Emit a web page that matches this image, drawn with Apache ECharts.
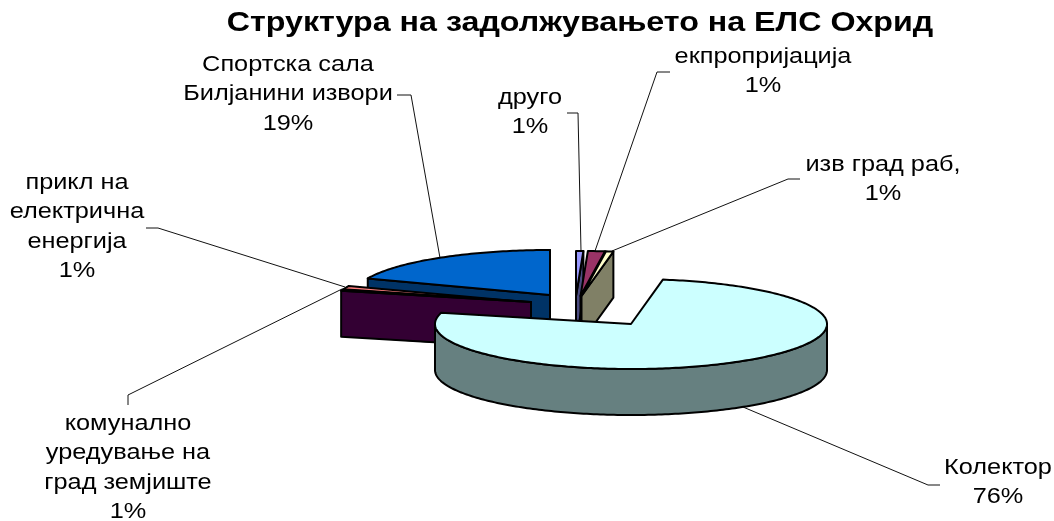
<!DOCTYPE html>
<html>
<head>
<meta charset="utf-8">
<style>html,body{margin:0;padding:0;background:#fff}#chart{width:1054px;height:521px}</style>
<script src="https://cdn.jsdelivr.net/npm/echarts@6/dist/echarts.min.js"></script>
</head>
<body>
<div id="chart"></div>
<script>
// Slices run clockwise from twelve o'clock.
const chartTitle = 'Структура на задолжувањето на ЕЛС Охрид';
const categories = [
  'друго',
  'екпропријација',
  'изв град раб,',
  'Колектор',
  'комунално\nуредување на\nград земјиште',
  'прикл на\nелектрична\nенергија',
  'Спортска сала\nБилјанини извори'
];
const values = [0.6, 1.4, 0.6, 76.4, 0.6, 1.4, 19.0];

const topColors  = ['#9999FF', '#993366', '#FFFFCC', '#CCFFFF', '#660066', '#FF8080', '#0066CC'];
const sideColors = ['#4C4C80', '#4C1933', '#808066', '#668080', '#330033', '#804040', '#003366'];

// Pie geometry: each slice is pulled away from the middle by its own amount.
const radiusX = 196, radiusY = 45, depth = 46;
const sliceCentres = [[576, 296], [580.5, 296], [581.5, 296], [631, 324], [531, 302], [531, 302.5], [550, 295]];
const paintOrder = [6, 5, 4, 0, 1, 2, 3];

// Label anchors: horizontal centre, first line's vertical centre, leader line.
const labelLayout = [
  { x: 530, y: 98,  line: [[567, 113], [578, 113], [581, 251]] },
  { x: 763, y: 57,  line: [[670, 72], [657, 72], [595, 251]] },
  { x: 883, y: 165, line: [[800, 179], [788, 179], [612, 251]] },
  { x: 998, y: 468, line: [[940, 485], [928, 485], [743, 407]] },
  { x: 128, y: 424, line: [[128, 405], [128, 395], [342, 289]] },
  { x: 77,  y: 183, line: [[146, 228], [158, 228], [345, 287]] },
  { x: 288, y: 65,  line: [[397, 95], [411, 95], [440, 258]] }
];
const fontFamily = '"Liberation Sans", Arial, sans-serif';
const lineHeight = 29.4;
const textStretch = 1.15;

const total = values.reduce((a, b) => a + b, 0);
const startAngles = [];
values.reduce((acc, v, i) => { startAngles[i] = acc; return acc + v / total * 360; }, 0);

function rimPoint(c, deg, drop) {
  const r = deg * Math.PI / 180;
  return [c[0] + radiusX * Math.sin(r), c[1] - radiusY * Math.cos(r) + (drop || 0)];
}
function rimArc(c, a0, a1, drop) {
  const pts = [];
  const n = Math.max(2, Math.ceil(Math.abs(a1 - a0)));
  for (let k = 0; k <= n; k++) pts.push(rimPoint(c, a0 + (a1 - a0) * k / n, drop));
  return pts;
}
function shape(points, fill, z2) {
  return {
    type: 'polygon', z2: z2,
    shape: { points: points },
    style: { fill: fill, stroke: '#000', lineWidth: 2, lineJoin: 'round' }
  };
}

function renderSlice(params, api) {
  const i = api.value(1);
  const share = api.value(0) / total;
  const a0 = startAngles[i], a1 = a0 + share * 360;
  const c = sliceCentres[i];
  const z = 10 + paintOrder.indexOf(i) * 5;
  const low = [c[0], c[1] + depth];
  const children = [];

  // Flat faces left by the cut, where they turn toward the viewer.
  const face = a => shape([c, rimPoint(c, a), rimPoint(c, a, depth), low], sideColors[i], z);
  if (Math.sin(a0 * Math.PI / 180) < 0) children.push(face(a0));
  if (Math.sin(a1 * Math.PI / 180) > 0) children.push(face(a1));

  // Curved outer wall on the near half of the ellipse.
  const w0 = Math.max(a0, 90), w1 = Math.min(a1, 270);
  if (w1 > w0) {
    children.push(shape(
      rimArc(c, w0, w1, 0).concat(rimArc(c, w1, w0, depth)), sideColors[i], z + 1));
  }

  // Top surface.
  children.push(shape([c].concat(rimArc(c, a0, a1, 0)), topColors[i], z + 2));

  // Leader line and text.
  const lay = labelLayout[i];
  children.push({
    type: 'polyline', z2: 1,
    shape: { points: lay.line },
    style: { fill: null, stroke: '#111', lineWidth: 1 }
  });
  const lines = categories[i].split('\n').concat(Math.round(share * 100) + '%');
  lines.forEach((t, k) => children.push({
    type: 'text', z2: 100,
    x: lay.x, y: lay.y + k * lineHeight, scaleX: textStretch,
    style: {
      text: t, x: 0, y: 0,
      align: 'center', verticalAlign: 'middle',
      font: '22px ' + fontFamily, fill: '#000'
    }
  }));
  return { type: 'group', children: children };
}

const chart = echarts.init(document.getElementById('chart'), null, { renderer: 'canvas' });
chart.setOption({
  animation: false,
  backgroundColor: '#fff',
  graphic: [{
    type: 'text', x: 580, y: 23, scaleX: textStretch,
    style: {
      text: chartTitle, x: 0, y: 0,
      align: 'center', verticalAlign: 'middle',
      font: 'bold 28px ' + fontFamily, fill: '#000'
    }
  }],
  series: [{
    type: 'custom',
    coordinateSystem: 'none',
    clip: false,
    silent: true,
    renderItem: renderSlice,
    data: values.map((v, i) => [v, i])
  }]
});
</script>
</body>
</html>
